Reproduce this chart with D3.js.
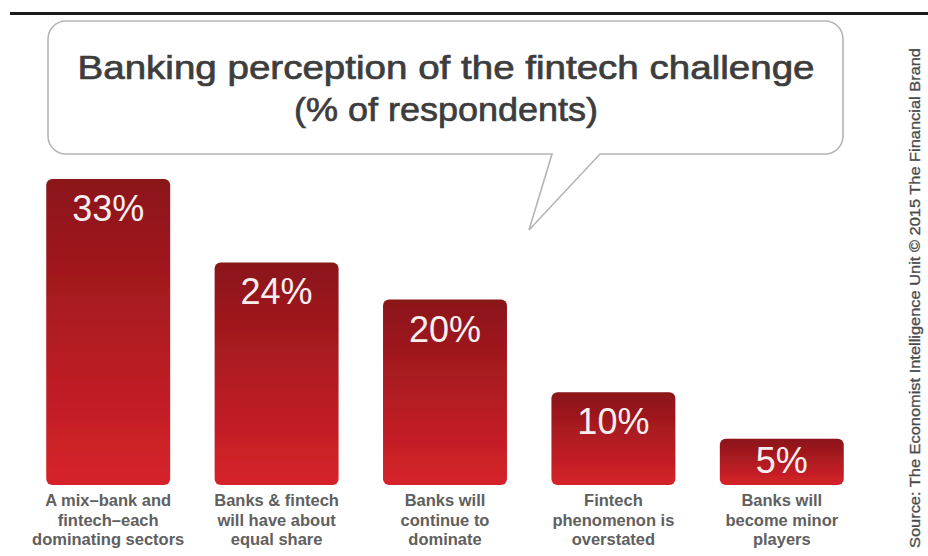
<!DOCTYPE html>
<html>
<head>
<meta charset="utf-8">
<script src="https://cdn.jsdelivr.net/npm/d3@7"></script>
<style>
  html, body { margin: 0; padding: 0; background: #fff; }
  svg { display: block; }
</style>
</head>
<body>
<svg id="chart" width="928" height="556"></svg>
<script>
// Survey answers: share of bankers choosing each outlook
const categories = [
  ["A mix\u2013bank and", "fintech\u2013each", "dominating sectors"],
  ["Banks & fintech", "will have about", "equal share"],
  ["Banks will", "continue to", "dominate"],
  ["Fintech", "phenomenon is", "overstated"],
  ["Banks will", "become minor", "players"]
];
const values = [33, 24, 20, 10, 5];
const titleLines = ["Banking perception of the fintech challenge", "(% of respondents)"];
const sourceText = "Source: The Economist Intelligence Unit \u00a9 2015 The Financial Brand";

const svg = d3.select("#chart");
const font = "'Liberation Sans', Arial, sans-serif";

// Bar gradient: deep red at top, brighter red at the base
const defs = svg.append("defs");
const grad = defs.append("linearGradient")
  .attr("id", "barGrad").attr("x1", 0).attr("y1", 0).attr("x2", 0).attr("y2", 1);
grad.append("stop").attr("offset", "0%").attr("stop-color", "#8a1519");
grad.append("stop").attr("offset", "100%").attr("stop-color", "#d6222a");

const soft = defs.append("filter").attr("id", "soft");
soft.append("feGaussianBlur").attr("stdDeviation", 0.6);

// Rule across the top
svg.append("line")
  .attr("x1", 10).attr("x2", 928).attr("y1", 13.5).attr("y2", 13.5)
  .attr("stroke", "#1a1a1a").attr("stroke-width", 3);

// Speech bubble around the title
const bx0 = 48, by0 = 21, bx1 = 843, by1 = 154, r = 18;
const tailL = 552, tailR = 600, tipX = 529, tipY = 230;
const bubble = d3.path();
bubble.moveTo(bx0 + r, by0);
bubble.lineTo(bx1 - r, by0);
bubble.arcTo(bx1, by0, bx1, by0 + r, r);
bubble.lineTo(bx1, by1 - r);
bubble.arcTo(bx1, by1, bx1 - r, by1, r);
bubble.lineTo(tailR, by1);
bubble.lineTo(tipX, tipY);
bubble.lineTo(tailL, by1);
bubble.lineTo(bx0 + r, by1);
bubble.arcTo(bx0, by1, bx0, by1 - r, r);
bubble.lineTo(bx0, by0 + r);
bubble.arcTo(bx0, by0, bx0 + r, by0, r);
bubble.closePath();
svg.append("path")
  .attr("d", bubble.toString())
  .attr("fill", "#fff")
  .attr("stroke", "#b5b5b5")
  .attr("stroke-width", 1.6);

// Title, stretched to the width of its heavy display face
const titleWidths = [737, 304];
const titleBaselines = [79, 121];
titleLines.forEach((t, i) => {
  svg.append("text")
    .attr("x", 446).attr("y", titleBaselines[i])
    .attr("text-anchor", "middle")
    .attr("font-family", font).attr("font-size", 33)
    .attr("fill", "#3d3d3d")
    .attr("stroke", "#3d3d3d").attr("stroke-width", 0.7)
    .attr("textLength", titleWidths[i]).attr("lengthAdjust", "spacingAndGlyphs")
    .text(t);
});

// Scales
const x = d3.scaleBand()
  .domain(d3.range(values.length))
  .range([24, 866])
  .paddingInner(0.264)
  .paddingOuter(0.132);
const y = d3.scaleLinear().domain([0, 33]).range([485, 179]);

const bars = svg.append("g").selectAll("g")
  .data(values)
  .join("g");

bars.append("rect")
  .attr("x", (d, i) => x(i))
  .attr("y", d => y(d))
  .attr("width", x.bandwidth())
  .attr("height", d => y(0) - y(d))
  .attr("rx", 6)
  .attr("fill", "url(#barGrad)")
  .attr("filter", "url(#soft)");

// Value inside the bar top; short bars keep it clear of the base
bars.append("text")
  .attr("x", (d, i) => x(i) + x.bandwidth() / 2)
  .attr("y", d => Math.min(y(d) + 42, y(0) - 12))
  .attr("text-anchor", "middle")
  .attr("font-family", font).attr("font-size", 36)
  .attr("fill", "#f6eeee")
  .text(d => d + "%");

// Category labels under each bar
const labels = svg.append("g").selectAll("text")
  .data(categories)
  .join("text")
  .attr("x", (d, i) => x(i) + x.bandwidth() / 2)
  .attr("y", 506)
  .attr("text-anchor", "middle")
  .attr("font-family", font).attr("font-size", 16.5).attr("font-weight", "bold")
  .attr("fill", "#606060");
labels.selectAll("tspan")
  .data(d => d)
  .join("tspan")
  .attr("x", function() { return this.parentNode.getAttribute("x"); })
  .attr("dy", (d, j) => j === 0 ? 0 : 19.5)
  .text(d => d);

// Vertical source credit on the right edge
svg.append("text")
  .attr("transform", "translate(920,548) rotate(-90)")
  .attr("font-family", font).attr("font-size", 14)
  .attr("fill", "#4a4a4a")
  .attr("stroke", "#4a4a4a").attr("stroke-width", 0.3)
  .attr("textLength", 500).attr("lengthAdjust", "spacingAndGlyphs")
  .text(sourceText);
</script>
</body>
</html>
